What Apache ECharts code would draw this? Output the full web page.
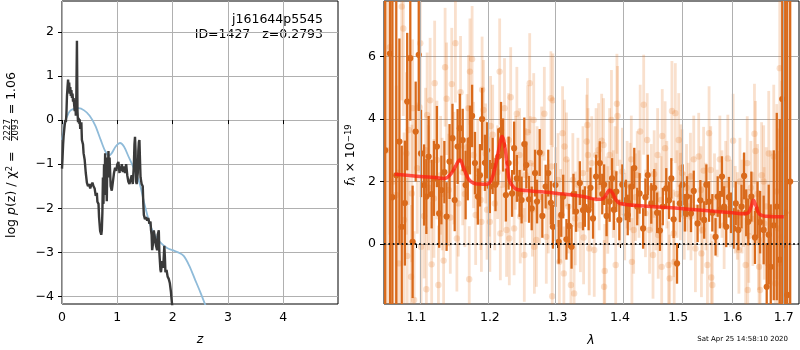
<!DOCTYPE html>
<html>
<head>
<meta charset="utf-8">
<script src="https://cdn.jsdelivr.net/npm/echarts@6/dist/echarts.min.js"></script>
<style>
  html, body { margin: 0; padding: 0; background: #fff; }
  #chart { width: 800px; height: 350px; }
</style>
</head>
<body>
<div id="chart"></div>
<script>
// left panel: log p(z), [z, value]
const logpChi2 = [
  [0.00, -1.10], [0.01, -0.85], [0.02, -0.55], [0.03, -0.35], [0.05, -0.10], [0.06, 0.00], [0.07, -0.05],
  [0.08, 0.15], [0.09, 0.55], [0.10, 0.75], [0.11, 0.92], [0.12, 0.70], [0.13, 0.85], [0.14, 0.60],
  [0.15, 0.75], [0.16, 0.55], [0.17, 0.68], [0.18, 0.50], [0.19, 0.60], [0.20, 0.42], [0.21, 0.50],
  [0.22, 0.35], [0.23, 0.20], [0.24, 0.45], [0.25, 0.10], [0.26, 0.60], [0.27, 1.80], [0.28, 0.20],
  [0.29, -0.05], [0.30, 0.05], [0.31, -0.08], [0.32, 0.02], [0.33, -0.20], [0.35, -0.05], [0.36, -0.45],
  [0.38, -0.55], [0.39, -0.75], [0.41, -0.90], [0.43, -1.20], [0.45, -1.42], [0.47, -1.50], [0.49, -1.45],
  [0.51, -1.55], [0.53, -1.47], [0.55, -1.42], [0.57, -1.50], [0.59, -1.55], [0.61, -1.72], [0.63, -1.65],
  [0.64, -1.85], [0.66, -1.90], [0.67, -2.20], [0.69, -2.52], [0.71, -2.60], [0.72, -2.50], [0.73, -2.10],
  [0.74, -1.30], [0.75, -1.90], [0.76, -1.00], [0.77, -1.60], [0.78, -0.75], [0.79, -1.70], [0.80, -1.20],
  [0.81, -1.84], [0.82, -0.85], [0.83, -1.20], [0.84, -0.70], [0.85, -1.30], [0.86, -0.85], [0.88, -1.50],
  [0.90, -1.60], [0.92, -1.40], [0.94, -1.20], [0.96, -1.08], [0.98, -1.15], [1.00, -1.00], [1.02, -0.95],
  [1.04, -1.20], [1.05, -1.05], [1.07, -1.15], [1.08, -1.00], [1.10, -1.18], [1.12, -1.05], [1.14, -1.20],
  [1.16, -1.00], [1.18, -1.25], [1.20, -1.40], [1.22, -1.45], [1.24, -1.35], [1.26, -1.25], [1.28, -1.45],
  [1.30, -1.00], [1.31, -0.55], [1.32, -0.38], [1.33, -0.70], [1.34, -1.40], [1.35, -1.45], [1.37, -1.20],
  [1.38, -0.70], [1.39, -0.50], [1.40, -0.45], [1.41, -0.90], [1.42, -1.30], [1.44, -1.45], [1.46, -1.50],
  [1.47, -1.90], [1.48, -2.15], [1.50, -2.25], [1.52, -2.20], [1.54, -2.28], [1.56, -2.22], [1.58, -2.35],
  [1.60, -2.30], [1.61, -2.50], [1.62, -2.60], [1.63, -2.95], [1.64, -2.98], [1.65, -2.75], [1.66, -2.50],
  [1.68, -2.50], [1.70, -2.85], [1.72, -2.95], [1.73, -2.60], [1.75, -2.50], [1.76, -3.00], [1.78, -3.40],
  [1.79, -3.45], [1.81, -3.20], [1.83, -3.35], [1.85, -2.85], [1.86, -3.10], [1.87, -3.45], [1.89, -3.40],
  [1.91, -3.55], [1.93, -3.60], [1.95, -3.70], [1.97, -3.90], [1.98, -4.05], [2.00, -4.30]
];
const logpPrior = [
  [0.00, -0.45], [0.02, -0.30], [0.05, -0.05], [0.09, 0.08], [0.14, 0.20], [0.20, 0.25], [0.30, 0.27],
  [0.40, 0.22], [0.50, 0.10], [0.60, -0.12], [0.70, -0.45], [0.78, -0.70], [0.85, -0.80], [0.90, -0.75],
  [0.97, -0.60], [1.05, -0.52], [1.12, -0.60], [1.20, -0.82], [1.30, -1.10], [1.40, -1.42], [1.50, -1.95],
  [1.60, -2.40], [1.70, -2.65], [1.80, -2.80], [1.90, -2.90], [2.00, -2.95], [2.10, -3.00], [2.20, -3.08],
  [2.30, -3.30], [2.40, -3.60], [2.50, -3.90], [2.60, -4.22]
];
const zTicks = [0, 1, 2, 3, 4];
const logpTicks = [-4, -3, -2, -1, 0, 1, 2];

// right panel: spectrum, [lambda, flux, error]
const specDark = [
  [1.060, 3.0, 15], [1.066, 6.1, 12], [1.069, 1.5, 9], [1.074, 2.2, 6], [1.078, 3.28, 3.3],
  [1.081, 0.55, 2.6], [1.085, 1.31, 2.0], [1.088, 4.56, 2.2], [1.092, 5.95, 2.0], [1.095, 0.07, 1.8],
  [1.099, 3.6, 1.6], [1.103, 6.06, 1.8], [1.106, 2.9, 1.4], [1.110, 1.89, 1.3], [1.113, 1.52, 1.2],
  [1.116, 2.8, 1.3], [1.120, 1.6, 1.1], [1.123, 2.1, 1.2], [1.127, 3.12, 1.3], [1.130, 0.98, 1.1],
  [1.133, 1.73, 1.1], [1.137, 2.3, 1.0], [1.140, 0.88, 1.1], [1.144, 2.64, 1.2], [1.148, 3.39, 1.1],
  [1.151, 1.41, 1.0], [1.155, 3.12, 1.2], [1.158, 3.71, 1.1], [1.162, 3.33, 1.0], [1.166, 1.89, 1.1],
  [1.169, 2.4, 1.0], [1.172, 3.33, 1.1], [1.175, 4.1, 1.0], [1.179, 2.59, 1.0], [1.183, 1.52, 0.9],
  [1.186, 2.2, 1.0], [1.189, 4.0, 1.0], [1.193, 2.6, 0.9], [1.196, 3.0, 0.9], [1.200, 1.84, 0.85],
  [1.204, 2.5, 0.9], [1.208, 1.9, 0.85], [1.212, 2.8, 0.9], [1.216, 3.65, 0.9], [1.219, 3.17, 0.85],
  [1.223, 1.57, 0.85], [1.227, 2.59, 0.85], [1.232, 1.62, 0.75], [1.235, 3.07, 0.85], [1.239, 2.1, 0.75],
  [1.243, 1.62, 0.75], [1.246, 1.41, 0.75], [1.250, 3.2, 0.85], [1.253, 2.53, 0.75], [1.257, 1.43, 0.75],
  [1.261, 1.14, 0.7], [1.266, 2.27, 0.75], [1.269, 1.36, 0.7], [1.273, 2.93, 0.75], [1.277, 0.9, 0.7],
  [1.282, 1.84, 0.7], [1.286, 2.27, 0.75], [1.290, 1.32, 0.7], [1.293, 0.55, 0.7], [1.297, 1.89, 0.7],
  [1.302, 0.07, 0.7], [1.306, 0.93, 0.7], [1.309, 1.52, 0.7], [1.314, 0.15, 0.65], [1.318, 0.58, 0.7],
  [1.322, -0.09, 0.7], [1.325, 1.6, 0.65], [1.329, 1.04, 0.65], [1.335, 1.95, 0.7], [1.340, 1.09, 0.65],
  [1.343, 1.2, 0.65], [1.349, 1.09, 0.65], [1.352, 1.8, 0.65], [1.356, 0.82, 0.65], [1.361, 2.16, 0.7],
  [1.367, 2.59, 0.7], [1.371, 1.6, 0.65], [1.374, 1.9, 0.65], [1.378, 0.9, 0.65], [1.383, 1.36, 0.65],
  [1.387, 2.1, 0.65], [1.390, 1.1, 0.65], [1.394, 1.68, 0.65], [1.399, 0.77, 0.65], [1.404, 1.9, 0.65],
  [1.410, 1.41, 0.65], [1.413, 0.93, 0.65], [1.416, 1.3, 0.6], [1.420, 1.84, 0.65], [1.424, 2.43, 0.65],
  [1.429, 1.2, 0.6], [1.433, 1.62, 0.65], [1.439, 0.5, 0.65], [1.443, 1.5, 0.6], [1.447, 2.21, 0.65],
  [1.453, 1.3, 0.65], [1.458, 1.8, 0.6], [1.463, 1.0, 0.65], [1.468, 0.43, 0.65], [1.473, 1.2, 0.6],
  [1.479, 1.78, 0.65], [1.484, 1.4, 0.6], [1.488, 2.1, 0.65], [1.492, 0.79, 0.6], [1.498, -0.62, 0.65],
  [1.503, 1.3, 0.6], [1.508, 1.9, 0.65], [1.512, 1.0, 0.6], [1.516, 1.52, 0.65], [1.523, 0.98, 0.6],
  [1.528, 1.7, 0.65], [1.535, 0.66, 0.6], [1.540, 1.4, 0.65], [1.547, 0.77, 0.6], [1.551, 1.9, 0.65],
  [1.556, 1.36, 0.65], [1.562, 1.0, 0.6], [1.568, 0.23, 0.6], [1.572, 1.52, 0.65], [1.576, 1.1, 0.6],
  [1.580, 2.16, 0.65], [1.584, 1.2, 0.65], [1.588, 0.55, 0.65], [1.593, 1.5, 0.65], [1.597, 1.0, 0.65],
  [1.602, 0.5, 0.65], [1.606, 1.3, 0.7], [1.611, 0.45, 0.65], [1.617, 1.2, 0.7], [1.622, 2.18, 0.75],
  [1.626, 1.0, 0.75], [1.630, 0.71, 0.75], [1.636, 1.52, 0.8], [1.643, 0.21, 0.85], [1.648, 1.1, 0.9],
  [1.653, 0.7, 1.0], [1.660, 0.45, 1.1], [1.666, -1.37, 1.4], [1.670, 0.3, 1.6], [1.674, -0.73, 2.0],
  [1.680, 0.6, 2.4], [1.686, 1.2, 3.0], [1.692, -0.5, 4.5], [1.697, 4.64, 8], [1.703, 1.0, 12],
  [1.707, -1.63, 12], [1.713, 2.0, 15]
];
const specLight = [
  [1.062, 3.0, 12], [1.066, 6.3, 6], [1.070, 2.0, 8], [1.074, 1.57, 3.5], [1.077, -0.62, 3.0],
  [1.081, 7.6, 3.0], [1.083, 6.9, 2.8], [1.084, 0.77, 2.8], [1.087, 2.9, 2.6], [1.088, -0.38, 2.5],
  [1.090, 3.65, 2.4], [1.093, -1.05, 2.3], [1.094, 1.62, 2.2], [1.095, 4.35, 2.2], [1.097, -1.79, 2.2],
  [1.101, 2.43, 2.1], [1.104, 4.38, 2.1], [1.105, 6.43, 2.1], [1.106, -0.09, 2.1], [1.110, 0.9, 2.0],
  [1.112, 3.0, 2.0], [1.113, -1.45, 2.0], [1.114, 4.13, 2.0], [1.116, 1.8, 2.0], [1.118, 4.6, 2.0],
  [1.120, -0.65, 2.0], [1.123, 1.46, 1.9], [1.124, 5.15, 2.0], [1.127, 2.69, 1.9], [1.129, -1.31, 1.9],
  [1.132, 2.2, 1.9], [1.134, 1.6, 1.8], [1.136, -0.53, 1.8], [1.138, 5.66, 1.9], [1.140, 4.65, 1.8],
  [1.143, 1.73, 1.8], [1.145, 0.85, 1.8], [1.147, 5.12, 1.8], [1.150, 2.43, 1.8], [1.152, 6.43, 1.9],
  [1.154, 0.18, 1.7], [1.156, 1.3, 1.7], [1.159, 4.86, 1.8], [1.162, 2.3, 1.7], [1.165, 1.6, 1.7],
  [1.168, 3.1, 1.7], [1.170, 4.35, 1.7], [1.171, -1.13, 1.7], [1.172, 5.52, 1.7], [1.175, 5.92, 1.7],
  [1.177, 2.85, 1.7], [1.180, 0.93, 1.6], [1.183, 2.4, 1.6], [1.187, 1.41, 1.6], [1.188, 0.71, 1.6],
  [1.189, 4.94, 1.7], [1.191, 4.29, 1.6], [1.194, 2.9, 1.6], [1.196, 1.1, 1.6], [1.199, 1.84, 1.6],
  [1.200, 0.71, 1.6], [1.201, 3.78, 1.6], [1.204, 3.5, 1.6], [1.207, 1.3, 1.5], [1.211, 2.3, 1.5],
  [1.214, 5.52, 1.7], [1.215, 0.34, 1.5], [1.218, 1.9, 1.5], [1.221, 4.35, 1.6], [1.224, 0.45, 1.5],
  [1.227, 3.33, 1.5], [1.228, 0.18, 1.5], [1.230, 4.7, 1.6], [1.235, 0.5, 1.5], [1.237, 2.6, 1.5],
  [1.239, 4.17, 1.5], [1.243, 2.85, 1.5], [1.244, 0.88, 1.5], [1.247, 1.7, 1.5], [1.250, -0.35, 1.5],
  [1.252, 2.21, 1.5], [1.255, 3.58, 1.5], [1.258, 5.15, 1.6], [1.259, 2.59, 1.5], [1.262, 1.1, 1.5],
  [1.264, 3.97, 1.5], [1.265, -0.09, 1.5], [1.268, 0.13, 1.5], [1.269, 2.27, 1.5], [1.273, 1.5, 1.5],
  [1.276, 2.9, 1.5], [1.280, 4.17, 1.5], [1.283, 0.23, 1.5], [1.286, 1.2, 1.5], [1.290, 4.67, 1.5],
  [1.291, 2.48, 1.5], [1.292, -1.67, 1.5], [1.293, 4.6, 1.5], [1.297, 1.6, 1.5], [1.301, 2.05, 1.5],
  [1.303, -0.57, 1.5], [1.305, 0.9, 1.5], [1.308, 3.55, 1.5], [1.310, -0.94, 1.5], [1.311, 3.12, 1.5],
  [1.314, 2.71, 1.5], [1.317, 1.2, 1.5], [1.321, -1.31, 1.5], [1.324, 2.05, 1.5], [1.326, -1.58, 1.5],
  [1.328, 0.82, 1.5], [1.332, 1.9, 1.5], [1.336, 0.6, 1.5], [1.340, 2.27, 1.5], [1.341, 0.21, 1.5],
  [1.346, 3.28, 1.5], [1.347, 3.81, 1.5], [1.348, 2.85, 1.5], [1.350, -0.14, 1.5], [1.354, 2.59, 1.5],
  [1.358, -0.19, 1.5], [1.361, 2.85, 1.5], [1.365, 3.01, 1.5], [1.366, 1.84, 1.4], [1.370, 3.31, 1.5],
  [1.373, 3.17, 1.5], [1.374, -1.37, 1.5], [1.375, -0.86, 1.5], [1.378, 1.4, 1.4], [1.380, 1.09, 1.4],
  [1.383, 2.85, 1.5], [1.386, 3.97, 1.6], [1.389, 1.6, 1.4], [1.392, 2.27, 1.5], [1.393, -0.67, 1.4],
  [1.395, 4.49, 1.6], [1.396, 4.1, 1.6], [1.400, 1.3, 1.4], [1.404, 2.32, 1.4], [1.408, 0.88, 1.4],
  [1.412, 1.9, 1.4], [1.417, 1.84, 1.4], [1.419, 2.71, 1.4], [1.420, -0.57, 1.4], [1.423, 0.45, 1.4],
  [1.426, 1.5, 1.4], [1.429, 2.21, 1.4], [1.432, 1.6, 1.4], [1.434, 3.6, 1.5], [1.440, 4.46, 1.6],
  [1.443, 0.98, 1.4], [1.446, 3.33, 1.5], [1.450, 0.45, 1.4], [1.453, 1.8, 1.4], [1.456, -0.35, 1.4],
  [1.458, 2.24, 1.4], [1.461, 1.2, 1.4], [1.464, 2.85, 1.5], [1.465, 0.29, 1.4], [1.470, 1.41, 1.4],
  [1.471, -0.73, 1.4], [1.472, 3.46, 1.5], [1.477, 3.07, 1.5], [1.480, 1.9, 1.4], [1.483, -0.67, 1.4],
  [1.485, -1.1, 1.4], [1.489, 4.26, 1.6], [1.492, 0.34, 1.4], [1.493, -0.57, 1.4], [1.495, 4.19, 1.6],
  [1.498, 1.6, 1.4], [1.501, 3.33, 1.5], [1.504, 1.52, 1.4], [1.505, 2.43, 1.4], [1.507, 2.27, 1.4],
  [1.511, 0.9, 1.4], [1.515, 1.8, 1.4], [1.518, 1.2, 1.4], [1.522, 2.16, 1.4], [1.523, 0.88, 1.4],
  [1.528, 2.71, 1.4], [1.531, -0.14, 1.4], [1.537, 2.8, 1.4], [1.541, 1.73, 1.4], [1.542, -0.3, 1.4],
  [1.544, 0.45, 1.4], [1.546, 2.35, 1.4], [1.550, 1.2, 1.4], [1.553, -0.67, 1.4], [1.556, 3.55, 1.5],
  [1.559, 2.37, 1.4], [1.560, -1.07, 1.4], [1.562, -1.31, 1.4], [1.566, 1.5, 1.4], [1.571, 0.98, 1.4],
  [1.576, 2.71, 1.4], [1.580, 1.6, 1.4], [1.584, 0.6, 1.4], [1.587, 1.9, 1.4], [1.591, 2.74, 1.4],
  [1.596, 1.3, 1.4], [1.601, 3.31, 1.5], [1.605, 1.1, 1.4], [1.609, 0.9, 1.4], [1.612, -0.19, 1.4],
  [1.614, 2.0, 1.4], [1.618, 1.2, 1.5], [1.621, 1.41, 1.5], [1.625, -0.67, 1.5], [1.628, 2.59, 1.5],
  [1.629, -1.47, 1.5], [1.631, 0.26, 1.5], [1.635, 1.8, 1.5], [1.639, 0.8, 1.5], [1.642, 3.53, 1.6],
  [1.644, 2.98, 1.6], [1.648, 1.6, 1.6], [1.650, 0.13, 1.6], [1.651, -0.73, 1.6], [1.653, -1.47, 1.7],
  [1.656, 2.2, 1.7], [1.660, 2.0, 1.8], [1.661, 0.66, 1.8], [1.665, 1.2, 1.9], [1.670, 2.9, 2.0],
  [1.674, 0.9, 2.1], [1.680, 2.8, 2.3], [1.683, -1.26, 2.5], [1.686, 1.68, 2.8], [1.688, 0.5, 3.2],
  [1.691, -0.62, 3.6], [1.692, 5.63, 4.0], [1.696, 0.23, 5.0], [1.700, 3.0, 6.0]
];
const modelLam = [
  1.072, 1.100, 1.120, 1.137, 1.145, 1.152, 1.158, 1.163, 1.170, 1.177, 1.185, 1.195, 1.202, 1.208,
  1.213, 1.2175, 1.222, 1.228, 1.235, 1.241, 1.260, 1.300, 1.340, 1.362, 1.372, 1.378, 1.383, 1.388,
  1.394, 1.400, 1.440, 1.489, 1.550, 1.600, 1.620, 1.630, 1.636, 1.640, 1.645, 1.652, 1.665, 1.700
];
const modelFlux = [
  2.23, 2.17, 2.14, 2.10, 2.22, 2.48, 2.69, 2.45, 2.08, 1.95, 1.92, 1.91, 2.05, 2.50,
  3.05, 3.44, 3.05, 2.05, 1.80, 1.74, 1.70, 1.62, 1.52, 1.43, 1.45, 1.60, 1.73, 1.62,
  1.40, 1.30, 1.22, 1.16, 1.07, 1.00, 0.97, 1.00, 1.22, 1.40, 1.22, 0.95, 0.89, 0.87
];
const lamTicks = [1.1, 1.2, 1.3, 1.4, 1.5, 1.6, 1.7];
const fluxTicks = [0, 2, 4, 6];

const FONT = 'DejaVu Sans';
const gridColor = '#b0b0b0';
const darkColor = '#d96a1b';
const lightColor = 'rgba(229,115,26,0.22)';

function minusFmt (v) {
  return v < 0 ? '\u2212' + Math.abs(v) : String(v);
}

function errorBars (color, lw, r) {
  return function (params, api) {
    const x = api.value(0);
    const y = api.value(1);
    const e = api.value(2);
    const lo = api.coord([x, y - e]);
    const hi = api.coord([x, y + e]);
    const c = api.coord([x, y]);
    return {
      type: 'group',
      children: [
        { type: 'line', shape: { x1: lo[0], y1: lo[1], x2: hi[0], y2: hi[1] }, style: { stroke: color, lineWidth: lw } },
        { type: 'circle', shape: { cx: c[0], cy: c[1], r: r }, style: { fill: color } }
      ]
    };
  };
}

const toLn = arr => arr.map(d => [Math.log(d[0]), d[1], d[2]]);
const modelData = modelLam.map((l, i) => [Math.log(l), modelFlux[i]]);

const axisText = { color: '#000', fontFamily: FONT, fontSize: 12.5 };
const tickStyle = { show: true, inside: false, length: 4, lineStyle: { color: '#000', width: 1 } };

const chart = echarts.init(document.getElementById('chart'));
chart.setOption({
  animation: false,
  textStyle: { fontFamily: FONT },
  grid: [
    { left: 62, top: 1, width: 276, height: 303, show: true, borderColor: '#000', borderWidth: 1, backgroundColor: 'transparent' },
    { left: 384, top: 1, width: 415, height: 303, show: true, borderColor: '#000', borderWidth: 1, backgroundColor: 'transparent' }
  ],
  xAxis: [
    {
      gridIndex: 0, type: 'value', min: 0, max: 4.99,
      axisLine: { show: false },
      axisTick: Object.assign({ customValues: zTicks }, tickStyle),
      axisLabel: Object.assign({ customValues: zTicks, margin: 7, formatter: minusFmt }, axisText),
      splitLine: { show: true, lineStyle: { color: gridColor, width: 1 } }
    },
    {
      gridIndex: 1, type: 'value', min: Math.log(1.0585), max: Math.log(1.731),
      axisLine: { show: false },
      axisTick: Object.assign({ customValues: lamTicks.map(Math.log) }, tickStyle),
      axisLabel: Object.assign({
        customValues: lamTicks.map(Math.log), margin: 7,
        formatter: v => Math.exp(v).toFixed(1)
      }, axisText),
      splitLine: { show: false }
    }
  ],
  yAxis: [
    {
      gridIndex: 0, type: 'value', min: -4.17, max: 2.7,
      axisLine: { show: false },
      axisTick: Object.assign({ customValues: logpTicks }, tickStyle),
      axisLabel: Object.assign({ customValues: logpTicks, margin: 8, formatter: minusFmt }, axisText),
      splitLine: { show: true, lineStyle: { color: gridColor, width: 1 } }
    },
    {
      gridIndex: 1, type: 'value', min: -1.92, max: 7.78,
      axisLine: { show: false },
      axisTick: Object.assign({ customValues: fluxTicks }, tickStyle),
      axisLabel: Object.assign({ customValues: fluxTicks, margin: 8, formatter: minusFmt }, axisText),
      splitLine: { show: true, lineStyle: { color: gridColor, width: 1 } }
    }
  ],
  series: [
    {
      type: 'line', xAxisIndex: 0, yAxisIndex: 0, z: 3,
      data: logpPrior, showSymbol: false, smooth: 0.3,
      lineStyle: { color: '#8fbbd9', width: 1.8 }
    },
    {
      type: 'line', xAxisIndex: 0, yAxisIndex: 0, z: 4,
      data: logpChi2, showSymbol: false,
      lineStyle: { color: '#3a3a3a', width: 2.4 }
    },
    {
      // vertical grid lines at the lambda ticks
      type: 'line', xAxisIndex: 1, yAxisIndex: 1, z: 1,
      data: [[Math.log(1.1), -50]], showSymbol: false, lineStyle: { opacity: 0 },
      markLine: {
        silent: true, symbol: 'none', label: { show: false },
        lineStyle: { color: gridColor, width: 1, type: 'solid' },
        data: lamTicks.map(l => ({ xAxis: Math.log(l) }))
      }
    },
    {
      type: 'custom', xAxisIndex: 1, yAxisIndex: 1, z: 2, clip: true,
      data: toLn(specLight), renderItem: errorBars(lightColor, 2.8, 3.2),
      encode: { x: 0, y: 1 }
    },
    {
      type: 'custom', xAxisIndex: 1, yAxisIndex: 1, z: 3, clip: true,
      data: toLn(specDark), renderItem: errorBars(darkColor, 2.3, 3.1),
      encode: { x: 0, y: 1 }
    },
    {
      type: 'line', xAxisIndex: 1, yAxisIndex: 1, z: 5,
      data: modelData, showSymbol: false, smooth: 0.4,
      lineStyle: { color: 'rgba(255,30,20,0.75)', width: 3.5 },
      markLine: {
        silent: true, symbol: 'none', label: { show: false },
        lineStyle: { color: '#111', width: 1.8, type: [1.6, 2.8] },
        data: [{ yAxis: 0 }]
      }
    }
  ],
  graphic: [
    { type: 'text', x: 323, y: 20, style: { text: 'j161644p5545', font: '12.5px "DejaVu Sans"', fill: '#000', align: 'right', verticalAlign: 'middle' } },
    { type: 'text', x: 323, y: 35, style: { text: 'ID=1427   z=0.2793', font: '12.5px "DejaVu Sans"', fill: '#000', align: 'right', verticalAlign: 'middle' } },
    { type: 'text', x: 200, y: 340, style: { text: 'z', font: 'italic 12.5px "DejaVu Sans"', fill: '#000', align: 'center', verticalAlign: 'middle' } },
    { type: 'text', x: 591, y: 341, style: { text: '\u03bb', font: 'italic 12.5px "DejaVu Sans"', fill: '#000', align: 'center', verticalAlign: 'middle' } },
    { type: 'text', x: 788, y: 339, style: { text: 'Sat Apr 25 14:58:10 2020', font: '7px "DejaVu Sans"', fill: '#000', align: 'right', verticalAlign: 'middle' } },
    // left y label, rotated
    {
      type: 'text', x: 11.5, y: 238, rotation: Math.PI / 2,
      style: {
        text: 'log {it|p}(z) / \u03c7{sup|2} =', font: '12.5px "DejaVu Sans"', fill: '#000',
        align: 'left', verticalAlign: 'middle',
        rich: {
          it: { fontStyle: 'italic', fontSize: 12.5, fontFamily: FONT },
          sup: { fontSize: 8.5, fontFamily: FONT, verticalAlign: 'top' }
        }
      }
    },
    { type: 'text', x: 7.5, y: 130, rotation: Math.PI / 2, style: { text: '2227', font: '8.5px "DejaVu Sans"', fill: '#000', align: 'center', verticalAlign: 'middle' } },
    { type: 'text', x: 16, y: 130, rotation: Math.PI / 2, style: { text: '2093', font: '8.5px "DejaVu Sans"', fill: '#000', align: 'center', verticalAlign: 'middle' } },
    { type: 'line', shape: { x1: 11.5, y1: 119, x2: 11.5, y2: 141 }, style: { stroke: '#000', lineWidth: 0.8 } },
    { type: 'text', x: 11.5, y: 72, rotation: Math.PI / 2, style: { text: '= 1.06', font: '12.5px "DejaVu Sans"', fill: '#000', align: 'right', verticalAlign: 'middle' } },
    // right y label, rotated
    {
      type: 'text', x: 351, y: 186, rotation: Math.PI / 2,
      style: {
        text: '{it|f}{sub|\u03bb} \u00d7 10{sup|\u221219}', font: '12.5px "DejaVu Sans"', fill: '#000',
        align: 'left', verticalAlign: 'middle',
        rich: {
          it: { fontStyle: 'italic', fontSize: 12.5, fontFamily: FONT },
          sub: { fontStyle: 'italic', fontSize: 8.5, fontFamily: FONT, verticalAlign: 'bottom' },
          sup: { fontSize: 8.5, fontFamily: FONT, verticalAlign: 'top' }
        }
      }
    }
  ]
});
</script>
</body>
</html>
